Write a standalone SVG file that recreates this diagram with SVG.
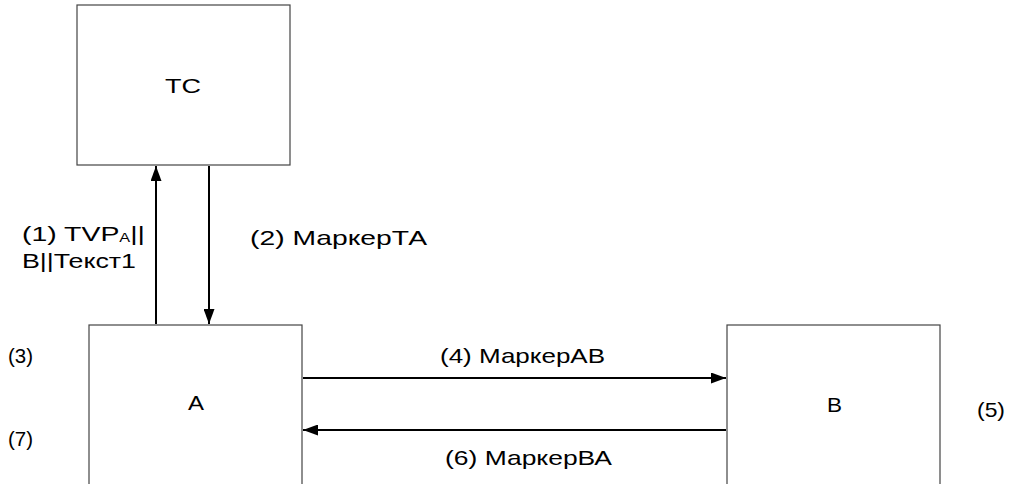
<svg xmlns="http://www.w3.org/2000/svg" width="1013" height="484" viewBox="0 0 1013 484">
  <defs>
    <marker id="arrow" viewBox="0 0 15 11" refX="15" refY="5.5" markerWidth="15" markerHeight="11" markerUnits="userSpaceOnUse" orient="auto">
      <path d="M0,0 L15,5.5 L0,11 Z" fill="#000"/>
    </marker>
  </defs>
  <style>
    .box { fill: #fff; stroke: #444; stroke-width: 1.2; }
    .lbl { font-family: "Liberation Sans", Arial, sans-serif; font-size: 21px; fill: #000; }
    .conn { stroke: #000; stroke-width: 2; fill: none; marker-end: url(#arrow); }
  </style>
  <rect width="1013" height="484" fill="#fff"/>

  <g id="node-tc">
    <rect class="box" x="77" y="5" width="213" height="160"/>
    <text class="lbl" x="165" y="93" textLength="36" lengthAdjust="spacingAndGlyphs">TC</text>
  </g>
  <g id="node-a">
    <rect class="box" x="89" y="325" width="213" height="170"/>
    <text class="lbl" x="188" y="410" textLength="16" lengthAdjust="spacingAndGlyphs">A</text>
  </g>
  <g id="node-b">
    <rect class="box" x="727" y="325" width="213" height="170"/>
    <text class="lbl" x="827" y="412" textLength="15" lengthAdjust="spacingAndGlyphs">B</text>
  </g>

  <g id="connectors">
    <line class="conn" x1="156" y1="324" x2="156" y2="166"/>
    <line class="conn" x1="209" y1="166" x2="209" y2="324"/>
    <line class="conn" x1="303" y1="378" x2="726" y2="378"/>
    <line class="conn" x1="726" y1="430" x2="303" y2="430"/>
  </g>

  <g id="labels">
    <text class="lbl" x="22" y="241" textLength="123" lengthAdjust="spacingAndGlyphs">(1) TVP<tspan font-size="12" dy="1">A</tspan><tspan dy="-1">||</tspan></text>
    <text class="lbl" x="22" y="268" textLength="114" lengthAdjust="spacingAndGlyphs">B||Текст1</text>
    <text class="lbl" x="250" y="245" textLength="177" lengthAdjust="spacingAndGlyphs">(2) МаркерТА</text>
    <text class="lbl" x="440" y="363" textLength="165" lengthAdjust="spacingAndGlyphs">(4) МаркерАВ</text>
    <text class="lbl" x="445" y="465" textLength="167" lengthAdjust="spacingAndGlyphs">(6) МаркерВА</text>
    <text class="lbl" x="8" y="363" textLength="25" lengthAdjust="spacingAndGlyphs">(3)</text>
    <text class="lbl" x="8" y="446" textLength="25" lengthAdjust="spacingAndGlyphs">(7)</text>
    <text class="lbl" x="977" y="417" textLength="28" lengthAdjust="spacingAndGlyphs">(5)</text>
  </g>
</svg>
